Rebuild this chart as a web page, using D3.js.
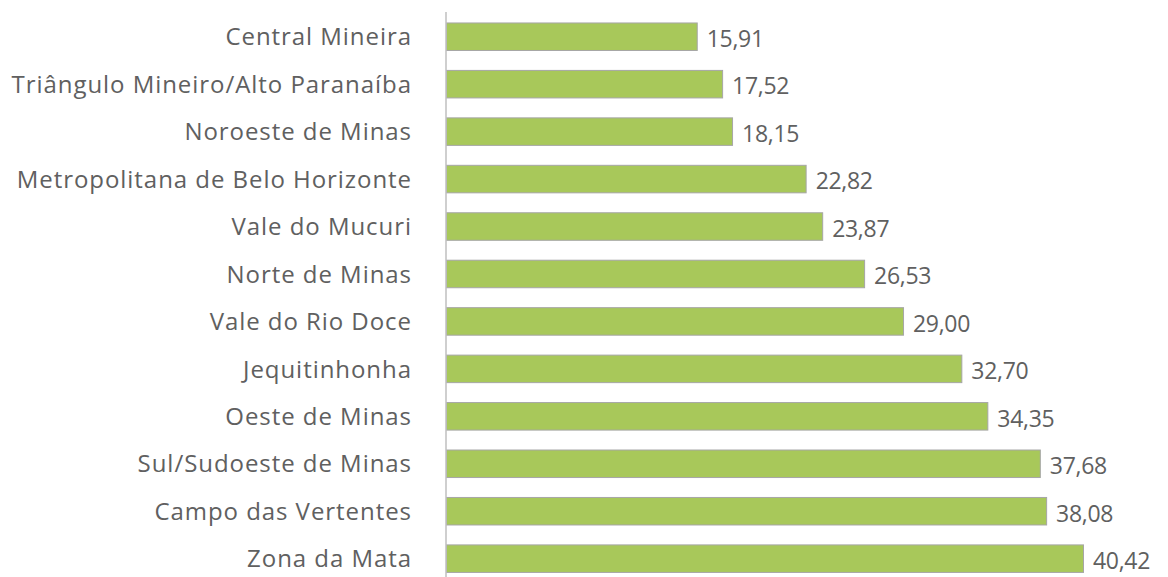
<!DOCTYPE html>
<html><head><meta charset="utf-8">
<script src="https://cdn.jsdelivr.net/npm/d3@7"></script>
<style>body{margin:0;background:#fff;}svg{display:block;}</style>
</head><body>
<svg id="c" width="1168" height="577"></svg>
<script>
const categories = ["Central Mineira","Triângulo Mineiro/Alto Paranaíba","Noroeste de Minas","Metropolitana de Belo Horizonte","Vale do Mucuri","Norte de Minas","Vale do Rio Doce","Jequitinhonha","Oeste de Minas","Sul/Sudoeste de Minas","Campo das Vertentes","Zona da Mata"];
const values = [15.91,17.52,18.15,22.82,23.87,26.53,29.00,32.70,34.35,37.68,38.08,40.42];

const svg = d3.select("#c");
const x0 = 446;
const x = d3.scaleLinear().domain([0, 40.42]).range([x0, 1083]);
const y = d3.scaleBand().domain(categories).range([13, 13 + 47.45*12]).paddingInner(0.42).paddingOuter(0.21);
const fmt = v => v.toFixed(2).replace(".", ",");
const font = "'Open Sans', sans-serif";

svg.selectAll("rect.bar").data(categories).join("rect")
  .attr("class","bar")
  .attr("x", x(0)+0.5)
  .attr("y", d => y(d))
  .attr("width", (d,i) => x(values[i]) - x(0))
  .attr("height", y.bandwidth())
  .attr("fill", "#a8c85a")
  .attr("stroke", "#a6a6a6")
  .attr("stroke-width", 1);

svg.append("line").attr("x1", x0).attr("x2", x0).attr("y1", 12).attr("y2", 577)
  .attr("stroke", "#bfbfbf").attr("stroke-width", 1.5);

svg.selectAll("text.cat").data(categories).join("text")
  .attr("class","cat")
  .attr("x", 412)
  .attr("y", d => y(d) + y.bandwidth()/2)
  .attr("dy", "0.36em")
  .attr("text-anchor","end")
  .attr("font-family", font)
  .attr("font-size", 24)
  .attr("letter-spacing", "0.95px")
  .attr("fill", "#606060")
  .text(d => d);

svg.selectAll("text.val").data(categories).join("text")
  .attr("class","val")
  .attr("x", (d,i) => x(values[i]) + 10)
  .attr("y", d => y(d) + y.bandwidth()/2 + 2)
  .attr("dy", "0.36em")
  .attr("font-family", font)
  .attr("font-size", 23)
  .attr("letter-spacing", "-0.3px")
  .attr("fill", "#606060")
  .text((d,i) => fmt(values[i]));
</script>
</body></html>
